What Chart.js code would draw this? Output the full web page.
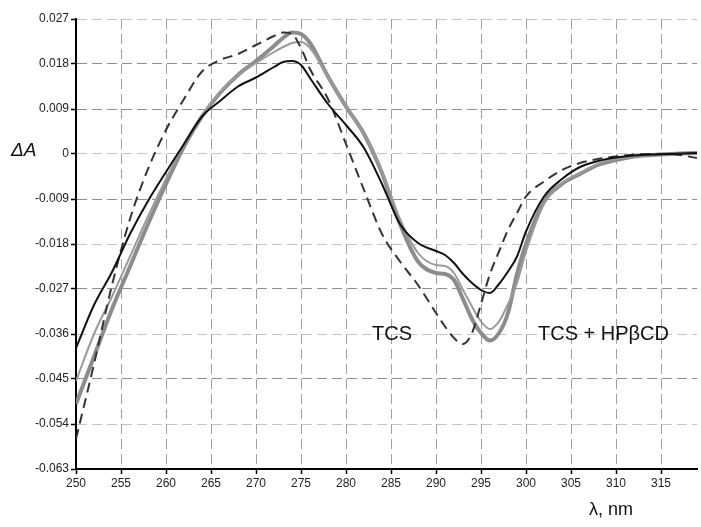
<!DOCTYPE html>
<html>
<head>
<meta charset="utf-8">
<script src="https://cdn.jsdelivr.net/npm/chart.js@4"></script>
<style>
  html, body { margin: 0; padding: 0; background: #fff; }
  #wrap { width: 701px; height: 527px; }
</style>
</head>
<body>
<div id="wrap"><canvas id="spectra"></canvas></div>
<script>
const wavelengths = [250, 252, 254, 256, 258, 260, 262, 264, 266, 268, 270, 272, 273, 274, 275, 276, 278, 280, 282, 284,
  286, 288, 290, 291, 292, 293, 294, 295, 296, 297, 298, 299, 300, 302, 304, 306, 308, 310, 312, 314, 316, 319];

// TCS + HPbCD, black solid
const tcsCdBlack = [-0.0388, -0.0302, -0.0236, -0.0160, -0.0094, -0.0036, 0.0020, 0.0075, 0.0106, 0.0135, 0.0153, 0.0174, 0.0184, 0.0186, 0.0178, 0.0152, 0.0100, 0.0058, 0.0012, -0.0060,
  -0.0140, -0.0178, -0.0194, -0.0202, -0.0218, -0.0240, -0.0258, -0.0272, -0.0278, -0.0260, -0.0235, -0.0205, -0.0155, -0.0085, -0.0050, -0.0026, -0.0014, -0.0007, -0.0003, -0.0001, 0, 0.0002];

// TCS, dashed
const tcsDashed = [-0.0570, -0.0420, -0.0262, -0.0130, -0.0030, 0.0048, 0.0110, 0.0165, 0.0188, 0.0200, 0.0218, 0.0236, 0.0243, 0.0240, 0.0212, 0.0170, 0.0110, 0.0020, -0.0072, -0.0160,
  -0.0215, -0.0262, -0.0318, -0.0345, -0.0368, -0.0380, -0.0358, -0.0300, -0.0240, -0.0195, -0.0152, -0.0118, -0.0085, -0.0055, -0.0032, -0.0018, -0.0010, -0.0005, -0.0001, 0, 0, -0.0008];

// gray curves
const grayThick = [-0.0500, -0.0405, -0.0310, -0.0225, -0.0140, -0.0060, 0.0015, 0.0075, 0.0122, 0.0158, 0.0186, 0.0216, 0.0232, 0.0243, 0.0240, 0.0222, 0.0155, 0.0095, 0.0040, -0.0038,
  -0.0140, -0.0215, -0.0238, -0.0240, -0.0252, -0.0290, -0.0330, -0.0358, -0.0373, -0.0358, -0.0318, -0.0240, -0.0180, -0.0095, -0.0060, -0.0040, -0.0022, -0.0012, -0.0005, -0.0002, 0, 0.0002];

const grayThin = [-0.0454, -0.0360, -0.0285, -0.0205, -0.0125, -0.0050, 0.0020, 0.0078, 0.0124, 0.0158, 0.0182, 0.0204, 0.0214, 0.0222, 0.0224, 0.0212, 0.0155, 0.0095, 0.0040, -0.0035,
  -0.0130, -0.0198, -0.0222, -0.0224, -0.0238, -0.0272, -0.0305, -0.0335, -0.0350, -0.0335, -0.0300, -0.0258, -0.0195, -0.0100, -0.0058, -0.0038, -0.0020, -0.0010, -0.0004, -0.0001, 0, 0.0002];

const xMin = 250, xMax = 319, xStep = 5;
const yMin = -0.063, yMax = 0.027, yStep = 0.009;

function pts(vals) {
    return vals.map((v, i) => ({ x: wavelengths[i], y: v }));
}

const labelsPlugin = {
    id: 'labels',
    afterDraw(chart) {
        const ctx = chart.ctx;
        ctx.save();
        ctx.fillStyle = '#111';
        ctx.textBaseline = 'middle';
        ctx.font = 'italic 19px "Liberation Sans", Arial, sans-serif';
        ctx.textAlign = 'left';
        ctx.fillText('\u0394A', 11, 151);
        ctx.font = '18px "Liberation Sans", Arial, sans-serif';
        ctx.fillText('\u03BB, nm', 589, 510);
        ctx.font = '20px "Liberation Sans", Arial, sans-serif';
        ctx.fillText('TCS', 372, 334);
        ctx.fillText('TCS + HP\u03B2CD', 538, 334);
        ctx.restore();
    }
};

// some horizontal grid lines look fainter in the original
const faintY = [0.027, 0, -0.018, -0.036, -0.054];

const ctx = document.getElementById('spectra').getContext('2d');
new Chart(ctx, {
    type: 'line',
    data: {
        datasets: [
            {
                label: 'TCS + HPbCD',
                data: pts(tcsCdBlack),
                borderColor: '#111',
                borderWidth: 2,
                order: 1
            },
            {
                label: 'TCS',
                data: pts(tcsDashed),
                borderColor: '#333',
                borderWidth: 2,
                borderDash: [10, 6],
                order: 2
            },
            {
                label: 'gray 2',
                data: pts(grayThin),
                borderColor: '#9a9a9a',
                borderWidth: 2,
                order: 3
            },
            {
                label: 'gray 1',
                data: pts(grayThick),
                borderColor: '#8c8c8c',
                borderWidth: 4,
                order: 4
            }
        ]
    },
    options: {
        responsive: true,
        maintainAspectRatio: false,
        animation: false,
        layout: { padding: { top: 19, right: 4, left: 0, bottom: 0 } },
        elements: {
            point: { radius: 0 },
            line: { cubicInterpolationMode: 'monotone', fill: false }
        },
        plugins: {
            legend: { display: false },
            tooltip: { enabled: false }
        },
        scales: {
            x: {
                type: 'linear',
                min: xMin,
                max: xMax,
                afterFit(scale) { scale.height = 58; },
                ticks: {
                    stepSize: xStep,
                    includeBounds: false,
                    maxRotation: 0,
                    autoSkip: false,
                    padding: 2,
                    color: '#222',
                    font: { family: '"Liberation Sans", Arial, sans-serif', size: 12 }
                },
                grid: {
                    color: '#a0a0a0',
                    lineWidth: 1,
                    tickLength: 5,
                    tickColor: '#000',
                    tickWidth: 1.5
                },
                border: { display: true, color: '#000', width: 2, dash: [10, 5] }
            },
            y: {
                min: yMin,
                max: yMax,
                afterFit(scale) { scale.width = 76; },
                ticks: {
                    stepSize: yStep,
                    padding: 2,
                    color: '#222',
                    font: { family: '"Liberation Sans", Arial, sans-serif', size: 12 },
                    callback(v) {
                        const r = Math.round(v * 1000) / 1000;
                        return r === 0 ? '0' : r.toFixed(3);
                    }
                },
                grid: {
                    color(c) {
                        if (!c.tick) return '#a0a0a0';
                        const r = Math.round(c.tick.value * 1000) / 1000;
                        return faintY.includes(r) ? '#c4c4c4' : '#8e8e8e';
                    },
                    lineWidth: 1,
                    tickLength: 5,
                    tickColor: '#000',
                    tickWidth: 1.5
                },
                border: { display: true, color: '#000', width: 2, dash: [10, 5] }
            }
        }
    },
    plugins: [labelsPlugin]
});
</script>
</body>
</html>
